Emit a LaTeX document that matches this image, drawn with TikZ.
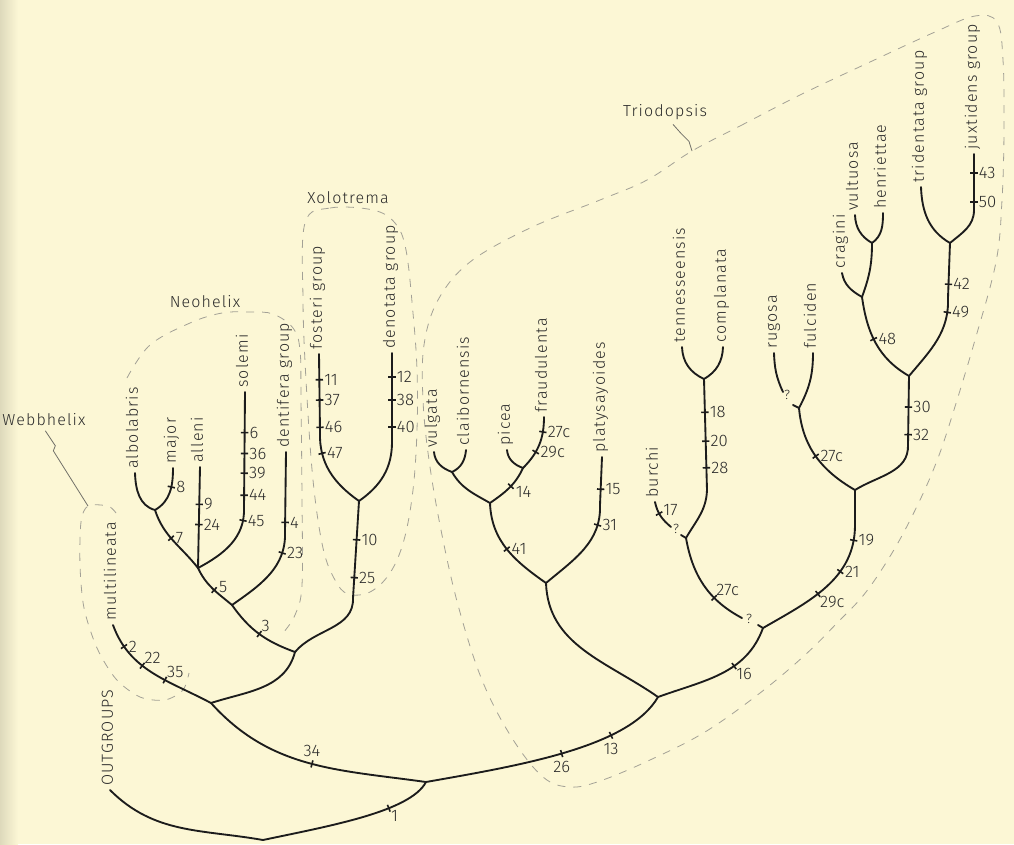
\documentclass[tikz,border=0pt]{standalone}
\usepackage{fontspec}
\newfontfamily\rotfont{Fira Sans Light}[LetterSpace=7]
\newfontfamily\numfont{Fira Sans Light}
\definecolor{papel}{HTML}{FCF7D5}
\definecolor{linha}{HTML}{1C1C1C}
\definecolor{texto}{HTML}{2A2A2A}
\definecolor{tracejado}{HTML}{A3A196}
\tikzset{
  ramo/.style={draw=linha, line width=1.4pt, line cap=round},
  marca/.style={sloped, fill=linha, inner sep=0pt, minimum width=1.2pt, minimum height=5.5pt},
  num/.style={font=\numfont\fontsize{12.5}{13}\selectfont, text=texto, inner sep=1pt},
  taxon/.style={rotate=90, anchor=mid west, font=\rotfont\fontsize{12}{12}\selectfont, text=texto, inner sep=0pt},
  grupo/.style={draw=tracejado, line width=0.6pt, dash pattern=on 6pt off 6pt},
  guia/.style={draw=tracejado!70!black, line width=0.6pt},
  rotgrupo/.style={font=\rotfont\fontsize{12}{12}\selectfont, text=texto},
  duvida/.style={font=\numfont\fontsize{10}{10}\selectfont, text=texto, inner sep=0pt},
}

\begin{document}
\begin{tikzpicture}[x=0.75pt,y=0.75pt]
  \fill[papel] (0,0) rectangle (1014,-844);
  \shade[left color=black!12!papel, right color=papel] (0,0) rectangle (18,-844);
  \useasboundingbox (0,0) rectangle (1014,-844);

  % pontos do cladograma (pixels, y para baixo)
  \coordinate (raiz) at (263,-840);
  \coordinate (tout) at (110,-790);
  \coordinate (n1) at (426,-782);
  \coordinate (n2) at (211,-703);
  \coordinate (n3) at (658,-697);
  \coordinate (tmult) at (113,-625);
  \coordinate (n4) at (295,-652);
  \coordinate (n5) at (232,-605);
  \coordinate (bxol) at (353,-598);
  \coordinate (nxol) at (359,-501);
  \coordinate (bfost) at (320,-432);
  \coordinate (tfost) at (319,-354);
  \coordinate (bdeno) at (392,-442);
  \coordinate (tdeno) at (392,-353);
  \coordinate (n6) at (198,-568);
  \coordinate (bdent) at (285,-532);
  \coordinate (tdent) at (286,-452);
  \coordinate (n7) at (155,-510);
  \coordinate (talle) at (200,-467);
  \coordinate (bsole) at (244,-508);
  \coordinate (tsole) at (245,-392);
  \coordinate (talbo) at (135,-473);
  \coordinate (tmajo) at (173,-468);
  \coordinate (nplat) at (546,-583);
  \coordinate (nvf) at (490,-503);
  \coordinate (nvul) at (452,-472);
  \coordinate (npic) at (523,-468);
  \coordinate (tvulg) at (434,-452);
  \coordinate (tclai) at (466,-450);
  \coordinate (tpice) at (507,-450);
  \coordinate (tfrau) at (544,-417);
  \coordinate (bplat) at (600,-505);
  \coordinate (tplat) at (602,-457);
  \coordinate (n8) at (763,-628);
  \coordinate (q1a) at (758,-625);
  \coordinate (q1b) at (742,-618);
  \coordinate (nbur) at (686,-538);
  \coordinate (q2a) at (681,-535);
  \coordinate (q2b) at (671,-527);
  \coordinate (tburc) at (655,-502);
  \coordinate (bbur) at (707,-490);
  \coordinate (ntenn) at (704,-379);
  \coordinate (ttenn) at (682,-347);
  \coordinate (tcomp) at (723,-347);
  \coordinate (b11) at (855,-525);
  \coordinate (n11) at (855,-490);
  \coordinate (nrug) at (799,-408);
  \coordinate (q3a) at (793,-405);
  \coordinate (q3b) at (783,-392);
  \coordinate (trugo) at (774,-353);
  \coordinate (tfulc) at (813,-353);
  \coordinate (b12) at (908,-445);
  \coordinate (n12) at (909,-376);
  \coordinate (ncrag) at (862,-297);
  \coordinate (tcrag) at (842,-273);
  \coordinate (nvult) at (872,-243);
  \coordinate (tvult) at (855,-215);
  \coordinate (thenr) at (883,-213);
  \coordinate (btrid) at (948,-298);
  \coordinate (ntrid) at (950,-243);
  \coordinate (ttrid) at (921,-187);
  \coordinate (bjuxt) at (974,-210);
  \coordinate (tjuxt) at (974,-154);
  \coordinate (cw) at (88,-506);
  \coordinate (ct) at (692,-151);

  % grupos tracejados
  \draw[grupo] plot[smooth, tension=.5] coordinates {(116,-513) (108,-506) (88,-506) (81,-522) (80,-565) (84,-608) (97,-648) (116,-679) (140,-697) (165,-700) (183,-690) (189,-673)};
  \draw[grupo] plot[smooth, tension=.6] coordinates {(127,-378) (150,-345) (190,-323) (222,-313) (250,-312) (273,-314) (293,-328) (300,-350) (301,-400) (302,-500) (302,-585) (295,-615) (283,-633)};
  \draw[grupo] plot[smooth cycle, tension=.6] coordinates {(305,-223) (330,-208) (373,-210) (395,-223) (406,-250) (413,-313) (417,-370) (417,-430) (413,-490) (404,-540) (390,-573) (370,-592) (348,-594) (335,-580) (323,-548) (313,-480) (306,-380) (303,-300)};
  \draw[grupo] plot[smooth cycle, tension=.6] coordinates {(692,-151) (740,-126) (800,-95) (870,-62) (935,-32) (975,-16) (997,-22) (1003,-60) (1004,-130) (1002,-200) (996,-262) (975,-340) (953,-413) (938,-458) (920,-500) (895,-548) (866,-592) (838,-622) (805,-655) (760,-693) (705,-732) (650,-760) (600,-781) (570,-787) (543,-777) (512,-738) (482,-680) (458,-605) (441,-530) (429,-460) (423,-400) (424,-345) (438,-300) (470,-262) (530,-228) (600,-200) (647,-180)};

  % ramos basais e lado esquerdo
  \draw[ramo] (raiz) to[out=170,in=-45] (tout);
  \draw[ramo] (raiz) to[out=12,in=-118,in looseness=.5] node[marca,pos=.65] (m1) {} node[num,below right,pos=.65] (k1) {1} (n1);
  \draw[ramo] (n1) to[out=172,in=-48] node[marca,pos=.48] (m34) {} node[num,above=4pt,pos=.48] (k34) {34} (n2);
  \draw[ramo] (n1) to[out=10,in=-120,in looseness=.6] node[marca,pos=.48] (m26) {} node[num,below=4pt,pos=.48] (k26) {26}
    node[marca,pos=.69] (m13) {} node[num,below=4pt,pos=.69] (k13) {13} (n3);
  \draw[ramo] (n2) to[out=152,in=-70]
    node[marca,pos=.38] (m35) {} node[num,above right,pos=.38] (k35) {35}
    node[marca,pos=.6] (m22) {} node[num,above right,pos=.6] (k22) {22}
    node[marca,pos=.82] (m2) {} node[num,right=2pt,pos=.82] (k2) {2} (tmult);
  \draw[ramo] (n2) to[out=18,in=-105] (n4);
  \draw[ramo] (n4) to[out=160,in=-55] node[marca,pos=.5] (m3) {} node[num,above right,pos=.5] (k3) {3} (n5);
  \draw[ramo] (n4) to[out=50,in=-88] (bxol)
    -- node[marca,pos=.21] (m25) {} node[num,right=2pt,pos=.21] (k25) {25}
    node[marca,pos=.6] (m10) {} node[num,right=2pt,pos=.6] (k10) {10} (nxol);
  \draw[ramo] (nxol) to[out=145,in=-92] node[marca,pos=.75] (m47) {} node[num,right=2pt,pos=.75] (k47) {47} (bfost)
    -- node[marca,pos=.06] (m46) {} node[num,right=2pt,pos=.06] (k46) {46}
    node[marca,pos=.41] (m37) {} node[num,right=2pt,pos=.41] (k37) {37}
    node[marca,pos=.67] (m11) {} node[num,right=2pt,pos=.67] (k11) {11} (tfost);
  \draw[ramo] (nxol) to[out=35,in=-90] (bdeno)
    -- node[marca,pos=.17] (m40) {} node[num,right=2pt,pos=.17] (k40) {40}
    node[marca,pos=.47] (m38) {} node[num,right=2pt,pos=.47] (k38) {38}
    node[marca,pos=.73] (m12) {} node[num,right=2pt,pos=.73] (k12) {12} (tdeno);
  \draw[ramo] (n5) to[out=140,in=-65] node[marca,pos=.45] (m5) {} node[num,right=2pt,yshift=2pt,pos=.45] (k5) {5} (n6);
  \draw[ramo] (n5) to[out=35,in=-88] node[marca,pos=.78] (m23) {} node[num,right=2pt,pos=.78] (k23) {23} (bdent)
    -- node[marca,pos=.12] (m4) {} node[num,right=2pt,pos=.12] (k4) {4} (tdent);
  \draw[ramo] (n6) to[out=128,in=-72] node[marca,pos=.55] (m7) {} node[num,right=2pt,pos=.55] (k7) {7} (n7);
  \draw[ramo] (n6) -- node[marca,pos=.43] (m24) {} node[num,right=2pt,pos=.43] (k24) {24}
    node[marca,pos=.63] (m9) {} node[num,right=2pt,pos=.63] (k9) {9} (talle);
  \draw[ramo] (n6) to[out=28,in=-88] node[marca,pos=.85] (m45) {} node[num,right=2pt,pos=.85] (k45) {45} (bsole)
    -- node[marca,pos=.11] (m44) {} node[num,right=2pt,pos=.11] (k44) {44}
    node[marca,pos=.3] (m39) {} node[num,right=2pt,pos=.3] (k39) {39}
    node[marca,pos=.47] (m36) {} node[num,right=2pt,pos=.47] (k36) {36}
    node[marca,pos=.65] (m6) {} node[num,right=2pt,pos=.65] (k6) {6} (tsole);
  \draw[ramo] (n7) to[out=165,in=-88] (talbo);
  \draw[ramo] (n7) to[out=30,in=-90] node[marca,pos=.62] (m8) {} node[num,right=2pt,pos=.62] (k8) {8} (tmajo);

  % lado direito (Triodopsis)
  \draw[ramo] (n3) to[out=145,in=-88] (nplat);
  \draw[ramo] (n3) to[out=20,in=-110] node[marca,pos=.62] (m16) {} node[num,below right,pos=.62] (k16) {16} (n8);
  \draw[ramo] (nplat) to[out=145,in=-88] node[marca,pos=.5] (m41) {} node[num,right=2pt,pos=.5] (k41) {41} (nvf);
  \draw[ramo] (nplat) to[out=40,in=-88] node[marca,pos=.8] (m31) {} node[num,right=2pt,pos=.8] (k31) {31} (bplat)
    -- node[marca,pos=.33] (m15) {} node[num,right=2pt,pos=.33] (k15) {15} (tplat);
  \draw[ramo] (nvf) to[out=150,in=-60] (nvul);
  \draw[ramo] (nvf) to[out=35,in=-115] node[marca,pos=.55] (m14) {} node[num,right=2pt,yshift=-4pt,pos=.55] (k14) {14} (npic);
  \draw[ramo] (nvul) to[out=160,in=-85] (tvulg);
  \draw[ramo] (nvul) to[out=25,in=-95] (tclai);
  \draw[ramo] (npic) to[out=160,in=-85] (tpice);
  \draw[ramo] (npic) to[out=45,in=-90] node[marca,pos=.35] (m29cf) {} node[num,right=2pt,pos=.35] (k29cf) {29c}
    node[marca,pos=.75] (m27cf) {} node[num,right=2pt,pos=.75] (k27cf) {27c} (tfrau);
  \draw[ramo] (n8) -- (q1a);
  \draw[ramo] (q1b) to[out=152,in=-80] node[marca,pos=.33] (m27cb) {} node[num,above right,pos=.33] (k27cb) {27c} (nbur);
  \draw[ramo] (n8) to[out=30,in=-90] node[marca,pos=.42] (m29cb) {} node[num,below right,pos=.42] (k29cb) {29c}
    node[marca,pos=.65] (m21) {} node[num,right=2pt,pos=.65] (k21) {21}
    node[marca,pos=.9] (m19) {} node[num,right=2pt,pos=.9] (k19) {19} (b11) -- (n11);
  \draw[ramo] (nbur) -- (q2a);
  \draw[ramo] (q2b) to[out=140,in=-78] node[marca,pos=.6] (m17) {} node[num,right=1.5pt,yshift=3pt,pos=.6] (k17) {17} (tburc);
  \draw[ramo] (nbur) to[out=60,in=-92] (bbur)
    -- node[marca,pos=.2] (m28) {} node[num,right=2pt,pos=.2] (k28) {28}
    node[marca,pos=.44] (m20) {} node[num,right=2pt,pos=.44] (k20) {20}
    node[marca,pos=.7] (m18) {} node[num,right=2pt,pos=.7] (k18) {18} (ntenn);
  \draw[ramo] (ntenn) to[out=155,in=-88] (ttenn);
  \draw[ramo] (ntenn) to[out=30,in=-92] (tcomp);
  \draw[ramo] (n11) to[out=150,in=-85] node[marca,pos=.5] (m27cr) {} node[num,right=2pt,pos=.5] (k27cr) {27c} (nrug);
  \draw[ramo] (nrug) -- (q3a);
  \draw[ramo] (q3b) to[out=115,in=-88] (trugo);
  \draw[ramo] (nrug) to[out=62,in=-90] (tfulc);
  \draw[ramo] (n11) to[out=32,in=-88] (b12)
    -- node[marca,pos=.15] (m32) {} node[num,right=2pt,pos=.15] (k32) {32}
    node[marca,pos=.55] (m30) {} node[num,right=2pt,pos=.55] (k30) {30} (n12);
  \draw[ramo] (n12) to[out=150,in=-82] node[marca,pos=.55] (m48) {} node[num,right=2pt,pos=.55] (k48) {48} (ncrag);
  \draw[ramo] (n12) to[out=50,in=-88] node[marca,pos=.85] (m49) {} node[num,right=2pt,pos=.85] (k49) {49} (btrid)
    -- node[marca,pos=.25] (m42) {} node[num,right=2pt,pos=.25] (k42) {42} (ntrid);
  \draw[ramo] (ncrag) to[out=150,in=-80] (tcrag);
  \draw[ramo] (ncrag) to[out=70,in=-90] (nvult);
  \draw[ramo] (nvult) to[out=150,in=-88] (tvult);
  \draw[ramo] (nvult) to[out=35,in=-90] (thenr);
  \draw[ramo] (ntrid) to[out=150,in=-88] (ttrid);
  \draw[ramo] (ntrid) to[out=40,in=-90] (bjuxt)
    -- node[marca,pos=.14] (m50) {} node[num,right=2pt,pos=.14] (k50) {50}
    node[marca,pos=.66] (m43) {} node[num,right=2pt,pos=.66] (k43) {43} (tjuxt);

  \node[duvida] (d1) at (749,-619) {?};
  \node[duvida] (d2) at (676,-529) {?};
  \node[duvida] (d3) at (787,-395) {?};

  % nomes dos terminais
  \node[taxon] (lout) at ([yshift=3pt]tout) {OUTGROUPS};
  \node[taxon] (lmult) at ([yshift=3pt]tmult) {multilineata};
  \node[taxon] (lalbo) at ([yshift=3pt]talbo) {albolabris};
  \node[taxon] (lmajo) at ([yshift=3pt]tmajo) {major};
  \node[taxon] (lalle) at ([yshift=3pt]talle) {alleni};
  \node[taxon] (lsole) at ([yshift=3pt]tsole) {solemi};
  \node[taxon] (ldent) at ([yshift=3pt]tdent) {dentifera group};
  \node[taxon] (lfost) at ([yshift=3pt]tfost) {fosteri group};
  \node[taxon] (ldeno) at ([yshift=3pt]tdeno) {denotata group};
  \node[taxon] (lvulg) at ([yshift=3pt]tvulg) {vulgata};
  \node[taxon] (lclai) at ([yshift=3pt]tclai) {claibornensis};
  \node[taxon] (lpice) at ([yshift=3pt]tpice) {picea};
  \node[taxon] (lfrau) at ([yshift=3pt]tfrau) {fraudulenta};
  \node[taxon] (lplat) at ([yshift=3pt]tplat) {platysayoides};
  \node[taxon] (lburc) at ([yshift=3pt]tburc) {burchi};
  \node[taxon] (ltenn) at ([yshift=3pt]ttenn) {tennesseensis};
  \node[taxon] (lcomp) at ([yshift=3pt]tcomp) {complanata};
  \node[taxon] (lrugo) at ([yshift=3pt]trugo) {rugosa};
  \node[taxon] (lfulc) at ([yshift=3pt]tfulc) {fulciden};
  \node[taxon] (lcrag) at ([yshift=3pt]tcrag) {cragini};
  \node[taxon] (lvult) at ([yshift=3pt]tvult) {vultuosa};
  \node[taxon] (lhenr) at ([yshift=3pt]thenr) {henriettae};
  \node[taxon] (ltrid) at ([yshift=3pt]ttrid) {tridentata group};
  \node[taxon] (ljuxt) at ([yshift=3pt]tjuxt) {juxtidens group};

  % nomes dos generos
  \node[rotgrupo] (webb) at (44,-420) {Webbhelix};
  \node[rotgrupo] (neo) at (205,-302) {Neohelix};
  \node[rotgrupo] (xolo) at (348,-198) {Xolotrema};
  \node[rotgrupo] (trio) at (665,-112) {Triodopsis};
  \draw[guia] ([xshift=1pt]webb.south) -- ++(10,-15) -- ++(-2,-5) -- (cw);
  \draw[guia] ([xshift=6pt]trio.south) -- ++(8,-9) -- ++(8,-8) -- (ct);
\end{tikzpicture}
\end{document}
